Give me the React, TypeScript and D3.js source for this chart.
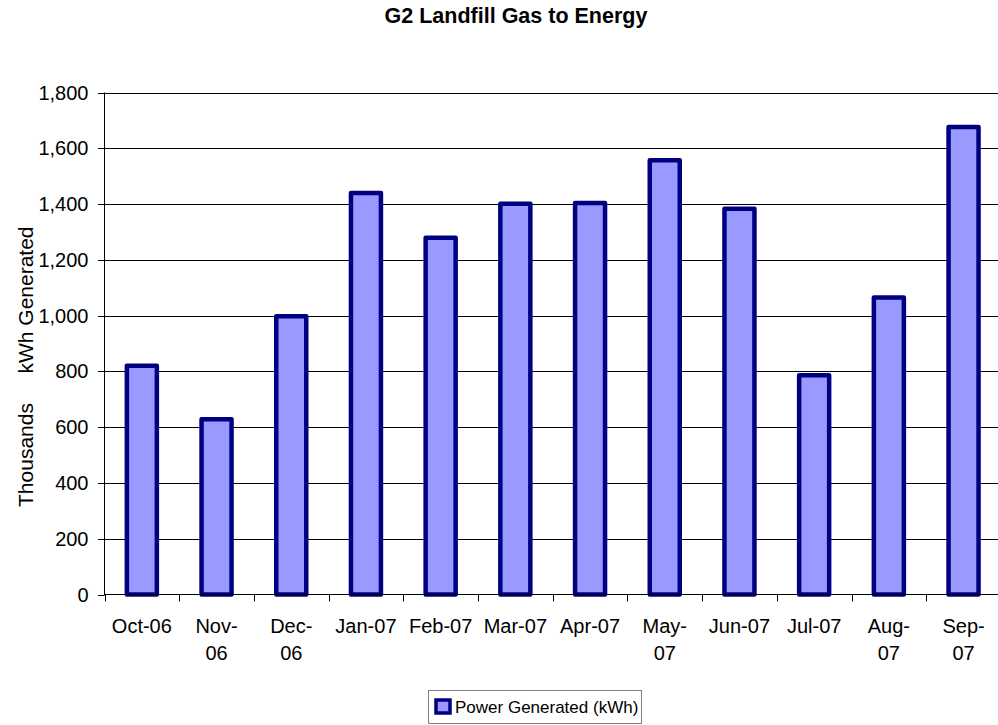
import React from "react";
import * as d3 from "d3";

const categories = ["Oct-06", "Nov-06", "Dec-06", "Jan-07", "Feb-07", "Mar-07", "Apr-07", "May-07", "Jun-07", "Jul-07", "Aug-07", "Sep-07"];
const tickLabelLines = [["Oct-06"], ["Nov-", "06"], ["Dec-", "06"], ["Jan-07"], ["Feb-07"], ["Mar-07"], ["Apr-07"], ["May-", "07"], ["Jun-07"], ["Jul-07"], ["Aug-", "07"], ["Sep-", "07"]];
const powerValues = [820, 628, 998, 1440, 1279, 1401, 1404, 1557, 1383, 786, 1065, 1676];
const yTicks = [0, 200, 400, 600, 800, 1000, 1200, 1400, 1600, 1800];
const title = "G2 Landfill Gas to Energy";
const yTitle = "kWh Generated";
const yUnits = "Thousands";
const legendLabel = "Power Generated (kWh)";

const W = 998;
const H = 725;
const FONT = "'Liberation Sans', Arial, sans-serif";
const FILL = "#9999FF";
const NAVY = "#000080";

export default function App() {
  const left = 104.5;
  const band = 74.7;
  const x = d3.scaleBand<string>().domain(categories).range([left, left + band * categories.length]).padding(0);
  const y = d3.scaleLinear().domain([0, 1800]).range([594.5, 92.5]);
  const barW = 30;
  const fmt = d3.format(",");

  return (
    <div style={{ position: "absolute", left: 0, top: 0 }}>
      <svg width={W} height={H} style={{ display: "block", fontFamily: FONT }}>
        <rect x={0} y={0} width={W} height={H} fill="#fff" />
        <text x={516} y={23} textAnchor="middle" fontWeight="bold" fontSize={21.5}>{title}</text>
        {yTicks.map((t) => (
          <g key={t}>
            {t > 0 && <line x1={left} x2={W} y1={Math.round(y(t)) + 0.5} y2={Math.round(y(t)) + 0.5} stroke="#000" strokeWidth={1} />}
            <line x1={left - 6.5} x2={left} y1={Math.round(y(t)) + 0.5} y2={Math.round(y(t)) + 0.5} stroke="#000" strokeWidth={1} />
            <text x={88.5} y={y(t)} dy="0.35em" textAnchor="end" fontSize={20}>{fmt(t)}</text>
          </g>
        ))}
        {categories.map((c, i) => (
          <rect key={c} x={(x(c) as number) + x.bandwidth() / 2 - barW / 2} y={y(powerValues[i])} width={barW} height={y(0) - y(powerValues[i])}
            fill={FILL} stroke={NAVY} strokeWidth={4.5} strokeLinejoin="round" />
        ))}
        <line x1={left} x2={left} y1={92.5} y2={595} stroke="#000" strokeWidth={1} />
        <line x1={left} x2={W} y1={594.5} y2={594.5} stroke="#000" strokeWidth={1} />
        {d3.range(categories.length + 1).map((i) => (
          <line key={i} x1={Math.round(left + i * band) + 0.5} x2={Math.round(left + i * band) + 0.5} y1={594.5} y2={601.5} stroke="#000" strokeWidth={1} />
        ))}
        {categories.map((c, i) => (
          <text key={c} x={(x(c) as number) + x.bandwidth() / 2} y={633} textAnchor="middle" fontSize={20}>
            {tickLabelLines[i].map((l, j) => (
              <tspan key={j} x={(x(c) as number) + x.bandwidth() / 2} y={633 + j * 27}>{l}</tspan>
            ))}
          </text>
        ))}
        <text transform={`translate(33,300) rotate(-90)`} textAnchor="middle" fontSize={21}>{yTitle}</text>
        <text transform={`translate(33,455) rotate(-90)`} textAnchor="middle" fontSize={21}>{yUnits}</text>
        <rect x={428.5} y={690.5} width={213} height={33} fill="#fff" stroke="#808080" strokeWidth={1} />
        <rect x={436} y={700} width={14} height={13} fill={FILL} stroke={NAVY} strokeWidth={3.5} />
        <text x={455} y={713} fontSize={17}>{legendLabel}</text>
      </svg>
    </div>
  );
}
